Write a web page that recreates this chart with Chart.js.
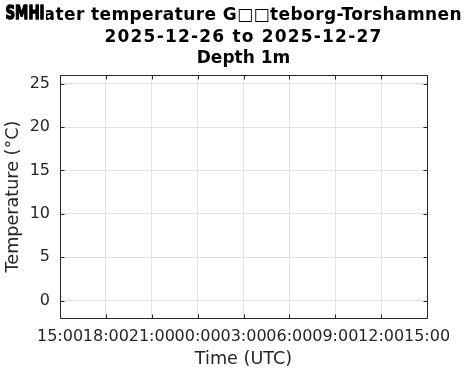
<!DOCTYPE html>
<html><head><meta charset="utf-8">
<script src="https://cdn.jsdelivr.net/npm/chart.js@4.4.1/dist/chart.umd.min.js"></script>
<style>html,body{margin:0;padding:0;background:#fff;overflow:hidden}</style>
</head><body>
<canvas id="c" width="471" height="371"></canvas>
<script>
// ---- data (the period has no observations; the axes are empty) ----
const titleLines = ['Water temperature G\u25A1\u25A1teborg-Torshamnen', '2025-12-26 to 2025-12-27', 'Depth 1m'];
const xTickHours = [0, 3, 6, 9, 12, 15, 18, 21, 24];          // hours after 2025-12-26 15:00 UTC
const xTickLabels = ['15:00', '18:00', '21:00', '00:00', '03:00', '06:00', '09:00', '12:00', '15:00'];
const yTicks = [0, 5, 10, 15, 20, 25];
const xRange = [0, 24];
const yRange = [-2, 26];
const timeHours = [];
const temperatures = [];
const logoText = 'SMHI';

const FONT = "'DejaVu Sans', sans-serif";
const AXIS = '#262626';
const GRID = '#e3e3e3';
const titleBaselines = [19.5, 41.7, 63.3];
const titleSpacing = ['0.4px', '1.2px', '0px'];

const framePlugin = {
  id: 'frame',
  afterDraw(chart) {
    const {ctx, chartArea: a, scales: {x, y}} = chart;
    const L = Math.round(a.left) + 0.5, R = Math.round(a.right) + 0.5;
    const T = Math.round(a.top) + 0.5, B = Math.round(a.bottom) + 0.5;
    ctx.save();
    ctx.strokeStyle = AXIS; ctx.lineWidth = 1;
    ctx.beginPath();
    ctx.rect(L, T, R - L, B - T);
    xTickHours.forEach(h => {
      const px = Math.round(x.getPixelForValue(h)) + 0.5;
      ctx.moveTo(px, B); ctx.lineTo(px, B - 4);
      ctx.moveTo(px, T); ctx.lineTo(px, T + 4);
    });
    yTicks.forEach(v => {
      const py = Math.round(y.getPixelForValue(v)) + 0.5;
      ctx.moveTo(L, py); ctx.lineTo(L + 4, py);
      ctx.moveTo(R, py); ctx.lineTo(R - 4, py);
    });
    ctx.stroke();
    // title, centred on the axes
    const cx = (a.left + a.right) / 2;
    ctx.fillStyle = '#000';
    ctx.textAlign = 'center';
    ctx.textBaseline = 'alphabetic';
    ctx.font = "bold 17px 'DejaVu Sans'";
    titleLines.forEach((t, i) => {
      ctx.letterSpacing = titleSpacing[i];
      ctx.fillText(t, cx, titleBaselines[i]);
    });
    ctx.letterSpacing = '0px';
    ctx.restore();
    // logo (drawn over the start of the title, as in the source image)
    ctx.save();
    ctx.fillStyle = '#fff';
    ctx.fillRect(0, 0, 46, 24);
    ctx.fillStyle = '#000';
    ctx.strokeStyle = '#000';
    ctx.lineWidth = 1.4;
    ctx.lineJoin = 'round';
    ctx.textAlign = 'left';
    ctx.textBaseline = 'alphabetic';
    ctx.font = "bold 19px 'DejaVu Sans'";
    const w = ctx.measureText(logoText).width;
    ctx.translate(5.5, 18.8);
    ctx.scale(39 / w, 1);
    ctx.fillText(logoText, 0, 0);
    ctx.strokeText(logoText, 0, 0);
    ctx.restore();
  }
};

new Chart(document.getElementById('c'), {
  type: 'line',
  data: {
    datasets: [{
      data: timeHours.map((t, i) => ({x: t, y: temperatures[i]})),
      borderColor: '#0072bd', borderWidth: 1.5, pointRadius: 0
    }]
  },
  options: {
    responsive: false, animation: false, devicePixelRatio: 1,
    layout: {padding: {left: 0, right: 44, top: 75, bottom: 0}},
    plugins: {legend: {display: false}, tooltip: {enabled: false}, title: {display: false}},
    scales: {
      x: {
        type: 'linear', min: xRange[0], max: xRange[1],
        afterBuildTicks: s => { s.ticks = xTickHours.map(v => ({value: v})); },
        afterFit: s => { s.height = 53; },
        border: {display: false},
        grid: {color: GRID, drawTicks: false, lineWidth: 1},
        ticks: {
          autoSkip: false, maxRotation: 0, minRotation: 0, padding: 9, color: AXIS,
          font: {family: FONT, size: 16},
          callback: (v) => xTickLabels[xTickHours.indexOf(v)]
        },
        title: {display: true, text: 'Time (UTC)', color: AXIS, font: {family: FONT, size: 17.6}, padding: {top: 0, bottom: 1}}
      },
      y: {
        type: 'linear', min: yRange[0], max: yRange[1],
        afterBuildTicks: s => { s.ticks = yTicks.map(v => ({value: v})); },
        afterFit: s => { s.width = 60; },
        border: {display: false},
        grid: {color: GRID, drawTicks: false, lineWidth: 1},
        ticks: {padding: 10, color: AXIS, font: {family: FONT, size: 16}},
        title: {display: true, text: 'Temperature (°C)', color: AXIS, font: {family: FONT, size: 17.6}, padding: {top: 3, bottom: 0}}
      }
    }
  },
  plugins: [framePlugin]
});
</script>
</body></html>
